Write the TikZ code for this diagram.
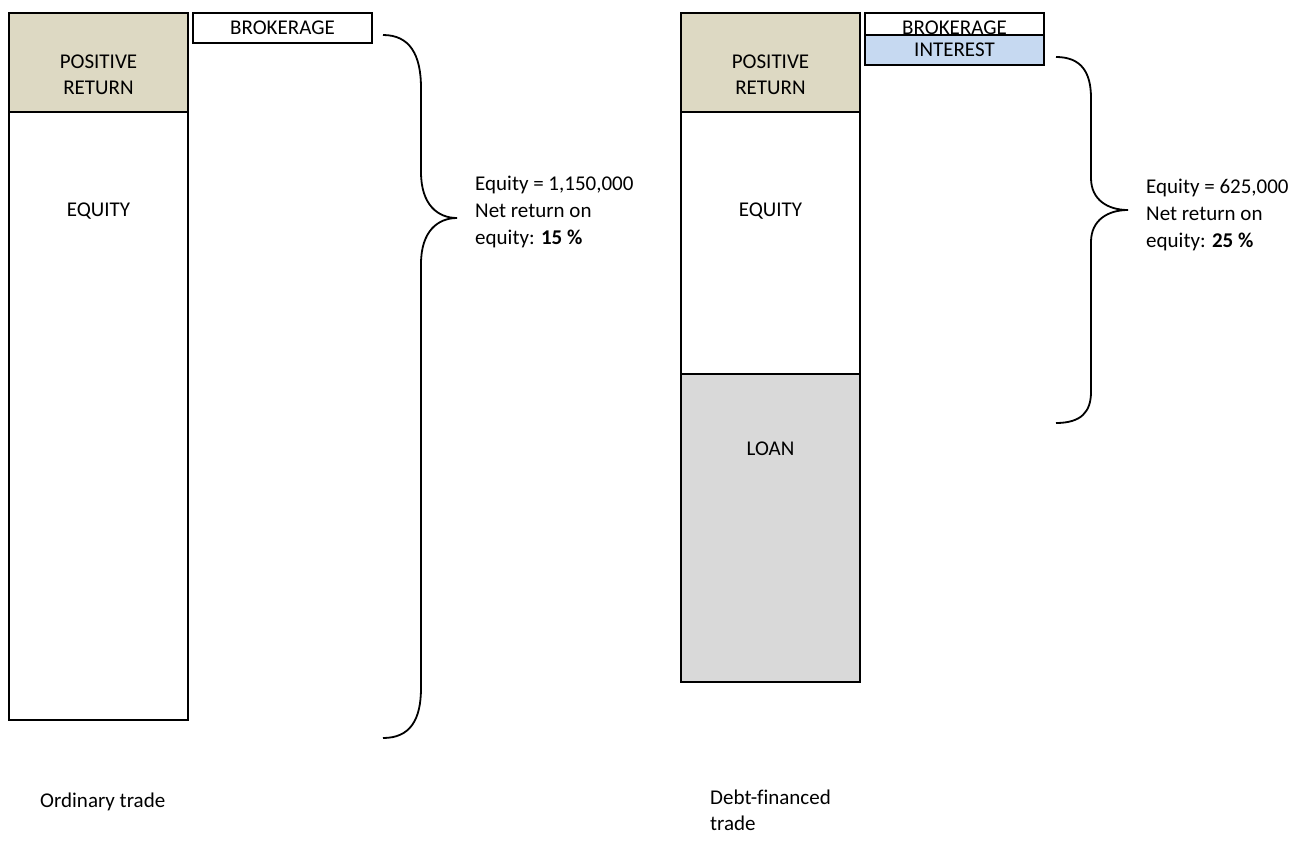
\documentclass[tikz,border=0pt]{standalone}
\usepackage{fontspec}
\setmainfont[Ligatures=NoCommon]{Carlito}
\definecolor{tanfill}{HTML}{DDD9C3}
\definecolor{loanfill}{HTML}{D9D9D9}
\definecolor{intfill}{HTML}{C6D9F1}
\begin{document}
\begin{tikzpicture}[x=1pt,y=-1pt,
  box/.style={draw=black, line width=1.8pt, anchor=north west, inner sep=0pt, outer sep=0pt},
  lbl/.style={inner sep=0pt, font=\fontsize{21}{26}\selectfont, align=center},
  note/.style={inner sep=0pt, font=\fontsize{21}{27}\selectfont, align=left, anchor=west},
  brace/.style={draw=black, line width=1.8pt}]
\useasboundingbox (0,0) rectangle (1294,841);
\fill[white] (0,0) rectangle (1294,841);
% ---- left column
\node[box, fill=tanfill, minimum width=179, minimum height=99] (pr1) at (9,13) {};
\node[box, fill=white, minimum width=179, minimum height=608] (eq1) at (9,112) {};
\node[box, fill=white, minimum width=179, minimum height=30] (br1) at (193,13) {};
\node[lbl] (pr1t) at (98.5,75) {POSITIVE\\RETURN};
\node[lbl] (eq1t) at (98.5,211) {EQUITY};
\node[lbl] (br1t) at (282.5,28) {BROKERAGE};
\draw[brace] (383,35) .. controls (410,35) and (421,55) .. (421,88) -- (421,172)
  .. controls (421,205) and (438,218) .. (457,218)
  .. controls (438,218) and (421,231) .. (421,264) -- (421,688)
  .. controls (421,720) and (410,738) .. (383,738);
\node[note] (n1) at (475,212) {Equity = 1,150,000\\Net return on\\equity: \textbf{15 \%}};
\node[lbl, anchor=west] (c1) at (40,802) {Ordinary trade};
% ---- right column
\node[box, fill=tanfill, minimum width=179, minimum height=99] (pr2) at (681,13) {};
\node[box, fill=white, minimum width=179, minimum height=262] (eq2) at (681,112) {};
\node[box, fill=loanfill, minimum width=179, minimum height=308] (ln2) at (681,374) {};
\node[box, fill=white, minimum width=179, minimum height=22] (br2) at (865,13) {};
\node[lbl] (br2t) at (954.5,28) {BROKERAGE};
\node[box, fill=intfill, minimum width=179, minimum height=30] (in2) at (865,35) {};
\node[lbl] (in2t) at (954.5,50) {INTEREST};
\node[lbl] (pr2t) at (770.5,75) {POSITIVE\\RETURN};
\node[lbl] (eq2t) at (770.5,211) {EQUITY};
\node[lbl] (ln2t) at (770.5,449) {LOAN};
\draw[brace] (1056,57) .. controls (1081,57) and (1091,72) .. (1091,98) -- (1091,178)
  .. controls (1091,200) and (1108,210) .. (1128,210)
  .. controls (1108,210) and (1091,220) .. (1091,242) -- (1091,392)
  .. controls (1091,412) and (1081,423) .. (1056,423);
\node[note] (n2) at (1146,215) {Equity = 625,000\\Net return on\\equity: \textbf{25 \%}};
\node[lbl, align=left, anchor=north west] (c2) at (710,790) {Debt-financed\\trade};
\end{tikzpicture}
\end{document}
